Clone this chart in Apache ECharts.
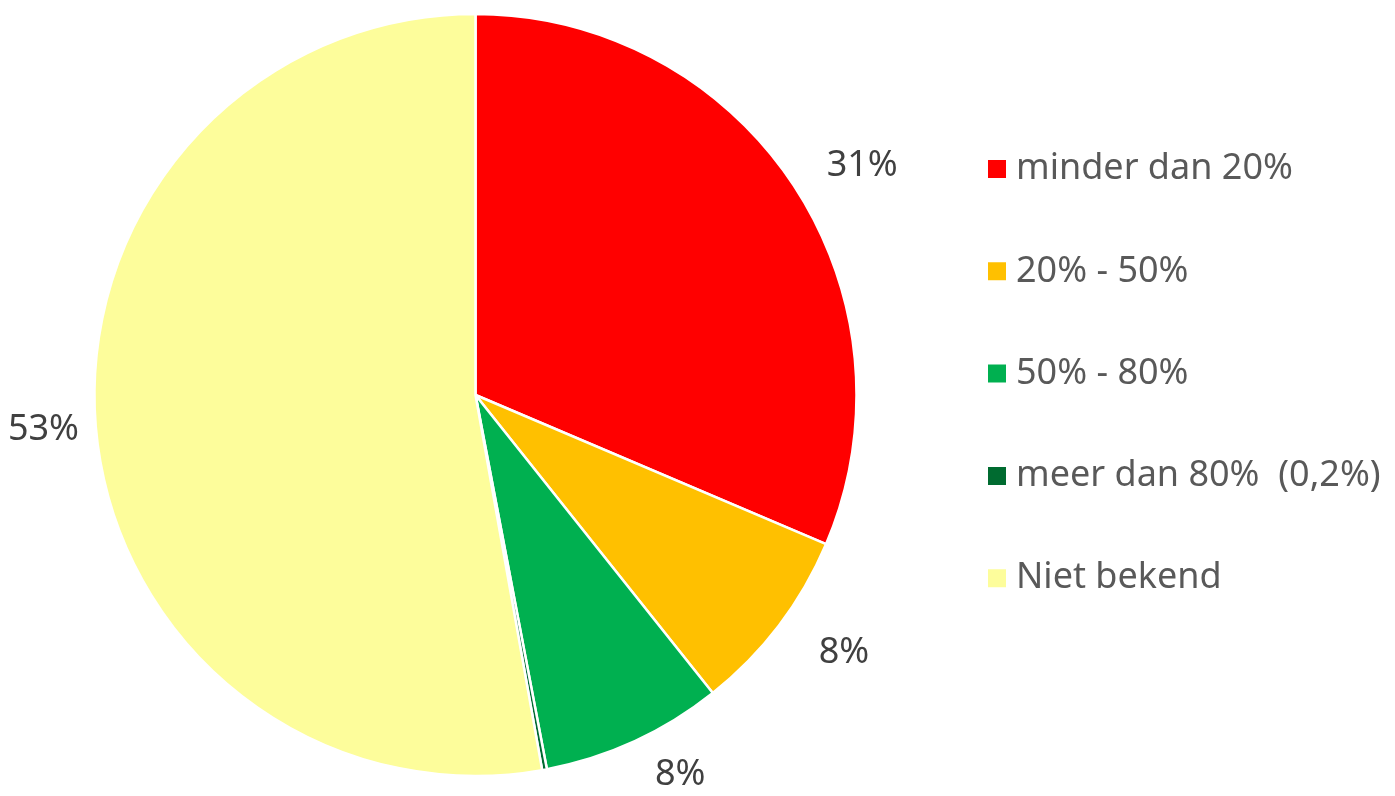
<!DOCTYPE html>
<html>
<head>
<meta charset="utf-8">
<script src="https://cdn.jsdelivr.net/npm/echarts@6/dist/echarts.min.js"></script>
<style>
  html, body { margin: 0; padding: 0; background: #fff; }
  #chart { width: 1395px; height: 796px; }
</style>
</head>
<body>
<div id="chart"></div>
<script>
  // categories and shares (percent)
  var categories = ['minder dan 20%', '20% - 50%', '50% - 80%', 'meer dan 80%  (0,2%)', 'Niet bekend'];
  var values = [31.4, 7.9, 7.7, 0.2, 52.8];
  var labels = ['31%', '8%', '8%', '', '53%'];
  var colors = ['#FF0000', '#FFC000', '#00B050', '#006B30', '#FDFD9B'];
  // how far each label sits outside the pie (px)
  var labelGap = [34, 44, 37, 0, 12];

  var chart = echarts.init(document.getElementById('chart'));

  var pieData = [];
  for (var i = 0; i < categories.length; i++) {
    pieData.push({
      name: categories[i],
      value: values[i],
      itemStyle: { color: colors[i] },
      label: { show: labels[i] !== '' },
      labelLine: { show: false, length: labelGap[i], length2: 0 }
    });
  }

  var option = {
    animation: false,
    textStyle: { fontFamily: 'Noto Sans' },
    legend: {
      orient: 'vertical',
      left: 981,
      top: 146,
      icon: 'rect',
      itemWidth: 20,
      itemHeight: 20,
      itemGap: 66.3,
      data: categories,
      textStyle: {
        fontFamily: 'Noto Sans',
        fontSize: 36,
        lineHeight: 34,
        color: '#595959',
        padding: [0, 0, 0, 4]
      }
    },
    series: [{
      type: 'pie',
      center: [475.5, 395],
      radius: 381,
      startAngle: 90,
      clockwise: true,
      avoidLabelOverlap: false,
      itemStyle: { borderColor: '#fff', borderWidth: 2.5 },
      label: {
        position: 'outside',
        fontFamily: 'Noto Sans',
        fontSize: 36,
        color: '#404040',
        formatter: function (p) { return labels[p.dataIndex]; }
      },
      labelLine: { show: false, length2: 0 },
      emphasis: { disabled: true },
      data: pieData
    }]
  };

  chart.setOption(option);
</script>
</body>
</html>
